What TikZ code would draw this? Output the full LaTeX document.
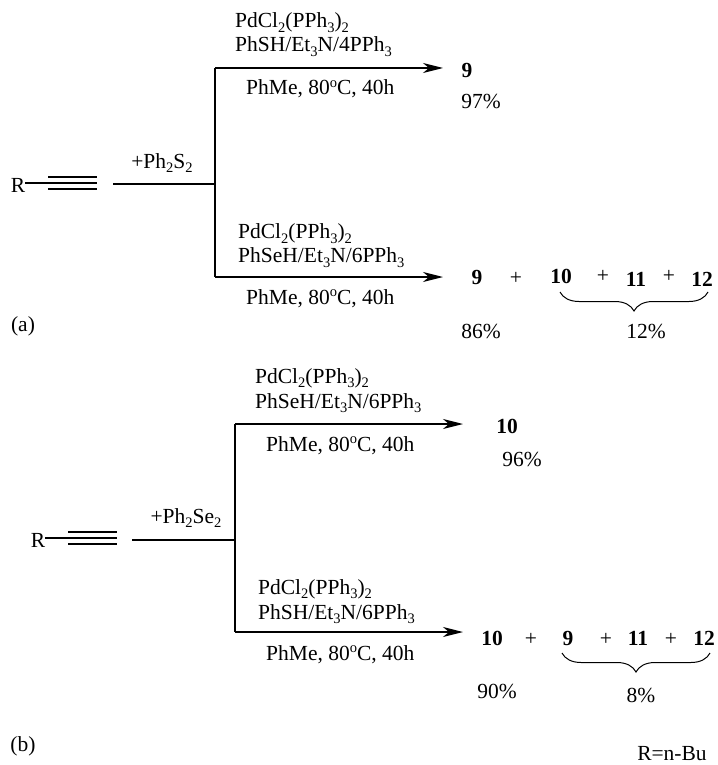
\documentclass[tikz,border=0pt]{standalone}
\usepackage{fontspec}
\setmainfont{Liberation Serif}
\usepackage{tikz}
\usetikzlibrary{arrows.meta, positioning, calc, decorations.pathreplacing}
\newcommand{\subtxt}[1]{\raisebox{-0.23em}{\fontsize{14.5}{15}\selectfont #1}}
\newcommand{\suptxt}[1]{\raisebox{0.36em}{\fontsize{14.5}{15}\selectfont #1}}
\newcommand{\catl}{PdCl\subtxt{2}(PPh\subtxt{3})\subtxt{2}}
\newcommand{\solv}{PhMe, 80\suptxt{o}C, 40h}
\begin{document}
\begin{tikzpicture}[
  x=1pt, y=-1pt,
  font=\fontsize{21.5}{24}\selectfont,
  lbl/.style={inner sep=0pt, anchor=base},
  cond/.style={inner sep=0pt, anchor=base west},
  prod/.style={inner sep=0pt, anchor=base, font=\fontsize{21.5}{24}\selectfont\bfseries},
  bond/.style={line width=1.5pt, black},
  thin bond/.style={line width=1.1pt, black},
  arr/.style={-{Stealth[length=20pt, width=10pt, inset=6pt]}, line width=1.5pt, black},
  brc/.style={decorate, decoration={brace, mirror, amplitude=19pt}, line width=1pt}
]
  \useasboundingbox (0,0) rectangle (717,765);

  % scheme a
  \node[lbl] (ra) at (18,192) {R};
  \coordinate (ta) at (48,183);
  \coordinate (tb) at (97,183);
  \draw[thin bond] (ra.east |- ta) -- (ta);
  \draw[thin bond] (ta) -- (tb);
  \draw[thin bond] ($(ta)+(0,-6)$) -- ($(tb)+(0,-6)$);
  \draw[thin bond] ($(ta)+(0,6)$) -- ($(tb)+(0,6)$);
  \coordinate (sa) at (113,184);
  \coordinate (ja) at (215,184);
  \coordinate (ua) at (215,68);
  \coordinate (da) at (215,277);
  \coordinate (ea) at (443,68);
  \coordinate (eb) at (443,277);
  \draw[bond] (sa) -- (ja);
  \draw[bond] (ua) -- (da);
  \draw[arr] (ua) -- (ea);
  \draw[arr] (da) -- (eb);
  \node[lbl] (ph2s) at (162,168) {+Ph\subtxt{2}S\subtxt{2}};
  \node[cond] (c1) at (235,28) {\catl};
  \node[cond] (c2) at (235,52) {PhSH/Et\subtxt{3}N/4PPh\subtxt{3}};
  \node[cond] (c3) at (246,95) {\solv};
  \node[prod] (p9a) at (467,78) {9};
  \node[lbl] (y97) at (481,109) {97\%};
  \node[cond] (c4) at (238,238.5) {\catl};
  \node[cond] (c5) at (238,262.5) {PhSeH/Et\subtxt{3}N/6PPh\subtxt{3}};
  \node[cond] (c6) at (246,304) {\solv};
  \node[prod] (p9b) at (477,284) {9};
  \node[lbl] (pa) at (516,284) {+};
  \node[prod] (p10a) at (561,283) {10};
  \node[lbl] (pb) at (603,282) {+};
  \node[prod] (p11a) at (636,286) {11};
  \node[lbl] (pc) at (669,282) {+};
  \node[prod] (p12a) at (702,286) {12};
  \coordinate (ba) at (560,292);
  \coordinate (bb) at (708,292);
  \draw[brc] (ba) -- (bb);
  \node[lbl] (y86) at (481,338) {86\%};
  \node[lbl] (y12) at (646,338) {12\%};
  \node[lbl] (la) at (23,331) {(a)};

  % scheme b
  \node[lbl] (rb) at (38,547) {R};
  \coordinate (tc) at (68,538);
  \coordinate (td) at (117,538);
  \draw[thin bond] (rb.east |- tc) -- (tc);
  \draw[thin bond] (tc) -- (td);
  \draw[thin bond] ($(tc)+(0,-6)$) -- ($(td)+(0,-6)$);
  \draw[thin bond] ($(tc)+(0,6)$) -- ($(td)+(0,6)$);
  \coordinate (sb) at (132,540);
  \coordinate (jb) at (235,540);
  \coordinate (ub) at (235,424);
  \coordinate (db) at (235,632);
  \coordinate (ec) at (463,424);
  \coordinate (ed) at (463,632);
  \draw[bond] (sb) -- (jb);
  \draw[bond] (ub) -- (db);
  \draw[arr] (ub) -- (ec);
  \draw[arr] (db) -- (ed);
  \node[lbl] (ph2se) at (186,523) {+Ph\subtxt{2}Se\subtxt{2}};
  \node[cond] (c7) at (255,383) {\catl};
  \node[cond] (c8) at (255,408) {PhSeH/Et\subtxt{3}N/6PPh\subtxt{3}};
  \node[cond] (c9) at (266,451) {\solv};
  \node[prod] (p10b) at (507,433) {10};
  \node[lbl] (y96) at (522,466) {96\%};
  \node[cond] (c10) at (258,594) {\catl};
  \node[cond] (c11) at (258,619) {PhSH/Et\subtxt{3}N/6PPh\subtxt{3}};
  \node[cond] (c12) at (266,660) {\solv};
  \node[prod] (p10c) at (492,645) {10};
  \node[lbl] (pd) at (531,645) {+};
  \node[prod] (p9c) at (568,645) {9};
  \node[lbl] (pe) at (606,645) {+};
  \node[prod] (p11b) at (638,645) {11};
  \node[lbl] (pf) at (671,645) {+};
  \node[prod] (p12b) at (704,645) {12};
  \coordinate (bc) at (562,653);
  \coordinate (bd) at (710,653);
  \draw[brc] (bc) -- (bd);
  \node[lbl] (y90) at (497,698) {90\%};
  \node[lbl] (y8) at (641,702) {8\%};
  \node[lbl] (lb) at (23,751) {(b)};
  \node[lbl] (rdef) at (672,760) {R=n-Bu};
\end{tikzpicture}
\end{document}
